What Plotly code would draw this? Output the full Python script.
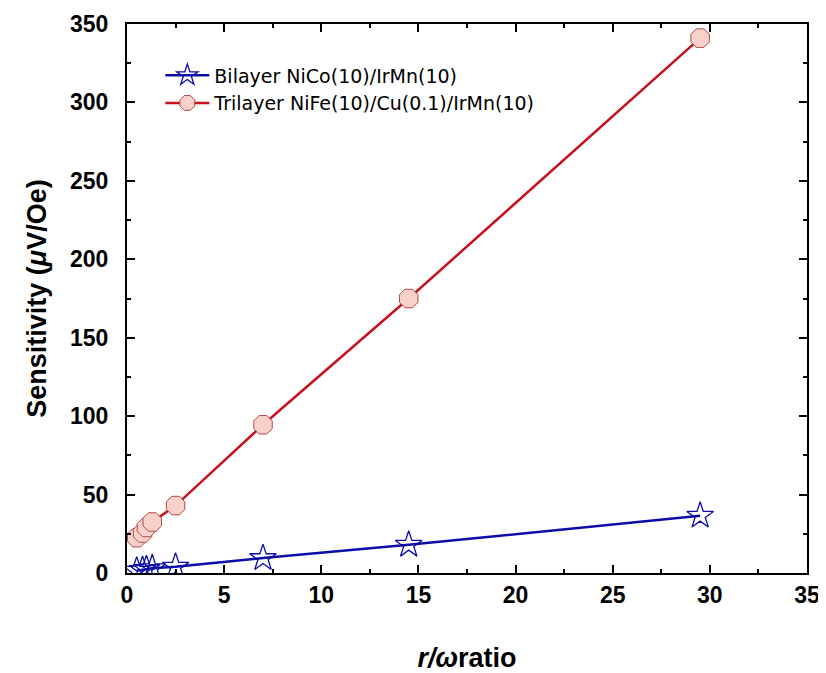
import plotly.graph_objects as go

x_vals = [0.5, 0.8, 1.0, 1.3, 2.5, 7.0, 14.5, 29.5]
bilayer = [1.5, 2.0, 2.5, 3.0, 4.0, 9.5, 18.0, 36.5]
trilayer = [22.5, 25.5, 29.0, 32.5, 43.0, 94.5, 175.0, 341.0]

x_ticks = [0, 5, 10, 15, 20, 25, 30, 35]
y_ticks = [0, 50, 100, 150, 200, 250, 300, 350]

fig = go.Figure()
fig.add_trace(go.Scatter(
    x=x_vals, y=bilayer, mode="lines+markers",
    name="Bilayer NiCo(10)/IrMn(10)",
    line=dict(color="#0c0ca8", width=2.5),
    marker=dict(symbol="star-open", size=20, color="#0c0ca8", line=dict(width=1.3)),
))
fig.add_trace(go.Scatter(
    x=x_vals, y=trilayer, mode="lines+markers",
    name="Trilayer NiFe(10)/Cu(0.1)/IrMn(10)",
    line=dict(color="#c4121e", width=2.5),
    marker=dict(symbol="octagon", size=20, color="#f8d2ca",
                line=dict(color="#b04848", width=1)),
))

axis_common = dict(
    showgrid=False, zeroline=False, showline=True, linecolor="black", linewidth=2,
    mirror="ticks", ticks="inside", ticklen=8, tickwidth=1.5, tickcolor="black",
    automargin=False, ticklabeloverflow="allow",
    tickfont=dict(family="Liberation Sans", size=23, color="black", weight="bold"),
)

fig.update_xaxes(
    range=[0, 35], tickvals=x_ticks, ticktext=[str(v) for v in x_ticks],
    minor=dict(ticks="inside", ticklen=4, tickcolor="black", dtick=2.5, tick0=0),
    title=dict(text="<b><i>r/ω</i>ratio</b>", standoff=46,
               font=dict(family="Liberation Sans", size=27, color="black")),
    **axis_common,
)
fig.update_yaxes(
    range=[0, 350], tickvals=y_ticks, ticktext=[str(v) for v in y_ticks],
    ticklabelstandoff=12,
    minor=dict(ticks="inside", ticklen=4, tickcolor="black", dtick=25, tick0=0),
    title=dict(text="<b>Sensitivity (<i>μ</i>V/Oe)</b>", standoff=16,
               font=dict(family="Liberation Sans", size=27, color="black")),
    **axis_common,
)

fig.update_layout(
    width=818, height=665,
    margin=dict(l=119, r=19, t=16, b=100),
    plot_bgcolor="white", paper_bgcolor="white",
    showlegend=True,
    legend=dict(x=0.049, y=0.941, xanchor="left", yanchor="top",
                bgcolor="rgba(0,0,0,0)", tracegroupgap=0,
                font=dict(family="DejaVu Sans", size=19, color="black"),
                itemwidth=44),
)

fig.write_html("out.html")
